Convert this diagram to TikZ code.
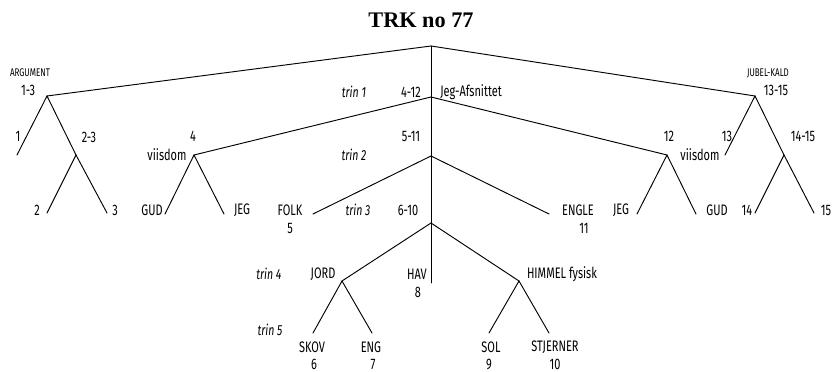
\documentclass[tikz,border=0pt]{standalone}
\usepackage{fontspec}
\setmainfont{Liberation Serif}
\newfontfamily\cond[FakeStretch=0.72]{Fira Sans}
\begin{document}
\begin{tikzpicture}[line cap=round,line join=round,x=0.03cm,y=-0.03cm,
    branch/.style={line width=0.8pt},
    lbl/.style={font=\cond\fontsize{13}{14}\selectfont, inner sep=0pt},
    tiny/.style={font=\cond\fontsize{9.5}{10}\selectfont, inner sep=0pt},
    trin/.style={font=\cond\itshape\fontsize{12.5}{14}\selectfont, inner sep=0pt}]
  \useasboundingbox (0,0) rectangle (832,372);

  % branch points
  \coordinate (top) at (431,46);
  \coordinate (arg) at (47,96);
  \coordinate (jub) at (755,96);
  \coordinate (t1) at (431,97);
  \coordinate (t2) at (431,156);
  \coordinate (t3) at (431,223);
  \coordinate (hav) at (431,283);
  \coordinate (v4) at (194,155);
  \coordinate (v12) at (667,155);
  \coordinate (folk) at (313,214);
  \coordinate (engle) at (549,214);
  \coordinate (jord) at (342,281);
  \coordinate (himmel) at (519,281);
  \coordinate (r23) at (76,155);
  \coordinate (r1415) at (784,155);

  % leaf ends
  \coordinate (l1) at (17,155);
  \coordinate (l2) at (47,213);
  \coordinate (l3) at (107,213);
  \coordinate (l13) at (725,155);
  \coordinate (l14) at (755,213);
  \coordinate (l15) at (814,213);
  \coordinate (gud4) at (165,214);
  \coordinate (jeg4) at (224,214);
  \coordinate (jeg12) at (637,214);
  \coordinate (gud12) at (696,214);
  \coordinate (skov) at (313,333);
  \coordinate (eng) at (372,333);
  \coordinate (sol) at (489,333);
  \coordinate (stj) at (549,333);

  \draw[branch] (top) -- (hav);
  \foreach \p/\c in {top/arg, top/jub, t1/v4, t1/v12, t2/folk, t2/engle,
      t3/jord, t3/himmel, arg/l1, arg/r23, r23/l2, r23/l3,
      jub/l13, jub/r1415, r1415/l14, r1415/l15, v4/gud4, v4/jeg4,
      v12/jeg12, v12/gud12, jord/skov, jord/eng, himmel/sol, himmel/stj}
    \draw[branch] (\p) -- (\c);

  % title
  \node[font=\bfseries\fontsize{19}{21}\selectfont, inner sep=0pt] (title) at (421,20) {TRK no 77};

  % labels
  \node[tiny] (argument) at (30,73) {ARGUMENT};
  \node[lbl] (n13) at (28,90) {1-3};
  \node[tiny] (jubelkald) at (768,73) {JUBEL-KALD};
  \node[lbl] (n1315) at (776,90) {13-15};
  \node[trin] (trin1) at (354,92) {trin 1};
  \node[lbl] (n412) at (411,92) {4-12};
  \node[lbl] (jegafs) at (471,92) {Jeg-Afsnittet};

  \node[lbl] (n1) at (18,136) {1};
  \node[lbl] (n23) at (89,137) {2-3};
  \node[lbl] (n4) at (193,136) {4};
  \node[lbl] (visdom4) at (167,155) {viisdom};
  \node[lbl] (n511) at (411,136) {5-11};
  \node[trin] (trin2) at (354,155) {trin 2};
  \node[lbl] (n12) at (669,136) {12};
  \node[lbl] (visdom12) at (700,155) {viisdom};
  \node[lbl] (n13b) at (727,136) {13};
  \node[lbl] (n1415) at (803,136) {14-15};

  \node[lbl] (n2) at (37,210) {2};
  \node[lbl] (n3) at (115,210) {3};
  \node[lbl] (gud4t) at (152,210) {GUD};
  \node[lbl] (jeg4t) at (242,210) {JEG};
  \node[lbl] (folkt) at (290,210) {FOLK};
  \node[lbl] (n5) at (290,228) {5};
  \node[trin] (trin3) at (358,210) {trin 3};
  \node[lbl] (n610) at (408,210) {6-10};
  \node[lbl] (englet) at (578,210) {ENGLE};
  \node[lbl] (n11) at (584,228) {11};
  \node[lbl] (jeg12t) at (621,210) {JEG};
  \node[lbl] (gud12t) at (717,210) {GUD};
  \node[lbl] (n14) at (747,210) {14};
  \node[lbl] (n15) at (826,210) {15};

  \node[trin] (trin4) at (269,274) {trin 4};
  \node[lbl] (jordt) at (323,274) {JORD};
  \node[lbl] (havt) at (417,274) {HAV};
  \node[lbl] (n8) at (418,292) {8};
  \node[lbl] (himmelt) at (562,274) {HIMMEL fysisk};

  \node[trin] (trin5) at (270,330) {trin 5};
  \node[lbl] (skovt) at (312,347) {SKOV};
  \node[lbl] (n6) at (314,364) {6};
  \node[lbl] (engt) at (371,347) {ENG};
  \node[lbl] (n7) at (373,364) {7};
  \node[lbl] (solt) at (491,347) {SOL};
  \node[lbl] (n9) at (489,364) {9};
  \node[lbl] (stjt) at (555,347) {STJERNER};
  \node[lbl] (n10) at (555,364) {10};
\end{tikzpicture}
\end{document}
